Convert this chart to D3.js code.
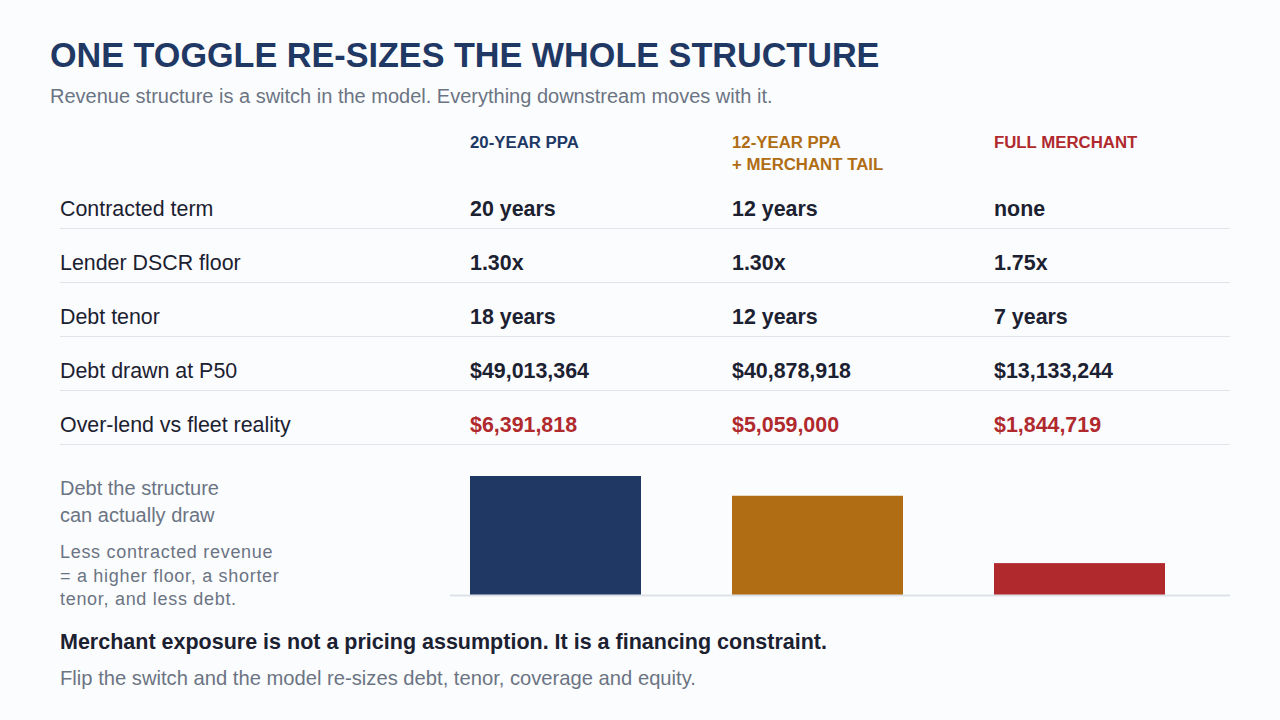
<!DOCTYPE html>
<html>
<head>
<meta charset="utf-8">
<script src="https://cdn.jsdelivr.net/npm/d3@7"></script>
<style>
  html, body { margin: 0; padding: 0; background: #fbfcfe; }
  svg { display: block; font-family: "Liberation Sans", Arial, sans-serif; }
</style>
</head>
<body>
<div id="chart"></div>
<script>
// data
const structures = ['20-YEAR PPA', '12-YEAR PPA\n+ MERCHANT TAIL', 'FULL MERCHANT'];
const rowLabels = ['Contracted term', 'Lender DSCR floor', 'Debt tenor', 'Debt drawn at P50', 'Over-lend vs fleet reality'];
const contractedTerm = ['20 years', '12 years', 'none'];
const dscrFloor = [1.30, 1.30, 1.75];
const debtTenor = [18, 12, 7];
const debtDrawn = [49013364, 40878918, 13133244];
const overLend = [6391818, 5059000, 1844719];
const colors = ['#203864', '#b06d14', '#b0292d'];

const width = 1280, height = 720;
const margin = {l: 60, r: 50};
const fmtMoney = d => '$' + d3.format(',')(d);

const rows = [
  {label: rowLabels[0], values: contractedTerm, red: false},
  {label: rowLabels[1], values: dscrFloor.map(d => d.toFixed(2) + 'x'), red: false},
  {label: rowLabels[2], values: debtTenor.map(d => d + ' years'), red: false},
  {label: rowLabels[3], values: debtDrawn.map(fmtMoney), red: false},
  {label: rowLabels[4], values: overLend.map(fmtMoney), red: true}
];

const svg = d3.select('#chart').append('svg')
  .attr('width', width)
  .attr('height', height);

// title block
svg.append('text')
  .attr('x', 50).attr('y', 67)
  .attr('fill', '#1f3864')
  .attr('font-size', 34.2).attr('font-weight', 'bold')
  .text('ONE TOGGLE RE-SIZES THE WHOLE STRUCTURE');

svg.append('text')
  .attr('x', 50).attr('y', 103)
  .attr('fill', '#6b7483')
  .attr('font-size', 20)
  .text('Revenue structure is a switch in the model. Everything downstream moves with it.');

// column scale
const x = d3.scaleBand()
  .domain(d3.range(structures.length))
  .range([470, 1256])
  .paddingInner(0)
  .align(0);
const barW = 171;

// headers
const header = svg.append('g').selectAll('text')
  .data(structures)
  .join('text')
  .attr('x', (d, i) => x(i))
  .attr('y', 148)
  .attr('fill', (d, i) => colors[i])
  .attr('font-size', 16.8).attr('font-weight', 'bold');

header.selectAll('tspan')
  .data(d => d.split('\n'))
  .join('tspan')
  .attr('x', function() { return this.parentNode.getAttribute('x'); })
  .attr('dy', (d, i) => i ? 22 : 0)
  .text(d => d);

// table rows
const rowY = d3.scalePoint()
  .domain(d3.range(rows.length))
  .range([208, 424]);

const row = svg.append('g').selectAll('g')
  .data(rows)
  .join('g')
  .attr('transform', (d, i) => `translate(0,${rowY(i)})`);

row.append('line')
  .attr('x1', margin.l).attr('x2', width - margin.r)
  .attr('y1', 20.5).attr('y2', 20.5)
  .attr('stroke', '#e1e4ea').attr('stroke-width', 1);

row.append('text')
  .attr('x', margin.l).attr('y', 8)
  .attr('fill', '#1b2130')
  .attr('font-size', 21.4)
  .text(d => d.label);

row.selectAll('.val')
  .data(d => d.values.map(v => ({v, red: d.red})))
  .join('text')
  .attr('class', 'val')
  .attr('x', (d, i) => x(i))
  .attr('y', 8)
  .attr('fill', d => d.red ? '#b0292d' : '#1b2130')
  .attr('font-size', 21.4).attr('font-weight', 'bold')
  .text(d => d.v);

// bars
const baseY = 595;
const y = d3.scaleLinear()
  .domain([0, d3.max(debtDrawn)])
  .range([baseY, 476]);

svg.append('g').selectAll('rect')
  .data(debtDrawn)
  .join('rect')
  .attr('x', (d, i) => x(i))
  .attr('y', d => y(d))
  .attr('width', barW)
  .attr('height', d => baseY - y(d))
  .attr('fill', (d, i) => colors[i]);

svg.append('line')
  .attr('x1', 450).attr('x2', width - margin.r)
  .attr('y1', baseY + 0.5).attr('y2', baseY + 0.5)
  .attr('stroke', '#dde1e8').attr('stroke-width', 2);

// left notes
const note1 = ['Debt the structure', 'can actually draw'];
const note2 = ['Less contracted revenue', '= a higher floor, a shorter', 'tenor, and less debt.'];

svg.append('text')
  .attr('fill', '#6b7483').attr('font-size', 20)
  .selectAll('tspan').data(note1).join('tspan')
  .attr('x', margin.l).attr('y', (d, i) => 495 + i * 26.5)
  .text(d => d);

svg.append('text')
  .attr('fill', '#6b7483').attr('font-size', 18).attr('letter-spacing', 0.7)
  .selectAll('tspan').data(note2).join('tspan')
  .attr('x', margin.l).attr('y', (d, i) => 558 + i * 23.7)
  .text(d => d);

// takeaway
svg.append('text')
  .attr('x', margin.l).attr('y', 649)
  .attr('fill', '#1b2130')
  .attr('font-size', 21.5).attr('font-weight', 'bold')
  .text('Merchant exposure is not a pricing assumption. It is a financing constraint.');

svg.append('text')
  .attr('x', margin.l).attr('y', 685)
  .attr('fill', '#6b7483')
  .attr('font-size', 20.2)
  .text('Flip the switch and the model re-sizes debt, tenor, coverage and equity.');
</script>
</body>
</html>
